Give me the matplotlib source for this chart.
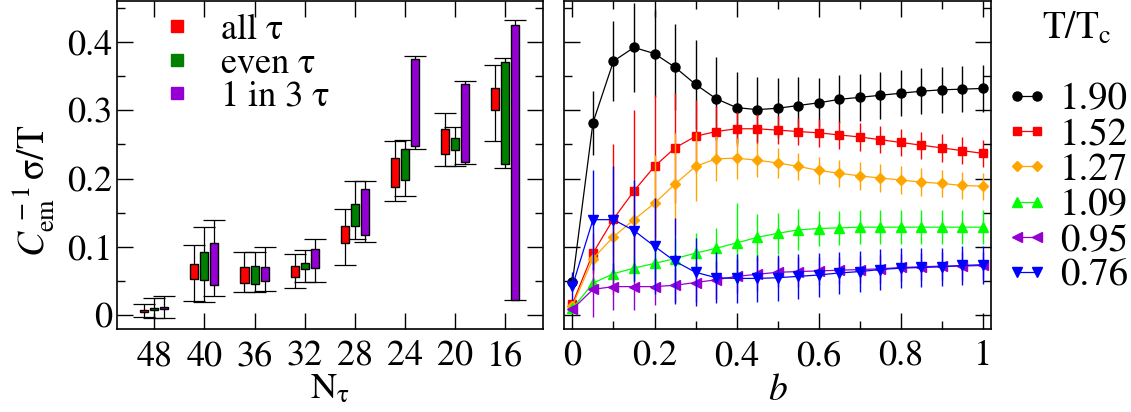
import numpy as np
import matplotlib
matplotlib.use("Agg")
import matplotlib.pyplot as plt
from matplotlib.lines import Line2D

plt.rcParams['font.family'] = ['STIXGeneral', 'DejaVu Serif']
plt.rcParams['mathtext.fontset'] = 'stix'

# ---- left panel data: N_tau groups, boxes (lo, hi) and whiskers (lo, hi)
ntau_labels = ['48', '40', '36', '32', '28', '24', '20', '16']

all_box_lo = [0.0048, 0.0527, 0.0469, 0.0561, 0.1055, 0.1885, 0.2368, 0.3008]
all_box_hi = [0.0078, 0.0752, 0.0712, 0.0718, 0.1300, 0.2306, 0.2725, 0.3320]
all_err_lo = [-0.003, 0.0214, 0.0337, 0.0396, 0.0733, 0.1675, 0.2188, 0.2544]
all_err_hi = [0.0166, 0.1034, 0.0927, 0.0898, 0.1550, 0.2550, 0.2960, 0.3658]

even_box_lo = [0.0078, 0.0517, 0.0454, 0.0674, 0.1310, 0.1978, 0.2412, 0.2212]
even_box_hi = [0.0107, 0.0923, 0.0718, 0.0762, 0.1630, 0.2437, 0.2588, 0.3710]
even_err_lo = [-0.0044, 0.0199, 0.0340, 0.0483, 0.1120, 0.1753, 0.2178, 0.2163]
even_err_hi = [0.0250, 0.1290, 0.0927, 0.0952, 0.1970, 0.2564, 0.2755, 0.3770]

third_box_lo = [0.0092, 0.0444, 0.0507, 0.0688, 0.1180, 0.2476, 0.2242, 0.0220]
third_box_hi = [0.0126, 0.1055, 0.0703, 0.0967, 0.1850, 0.3755, 0.3390, 0.4243]
third_err_lo = [-0.0044, 0.0287, 0.0360, 0.0483, 0.1080, 0.2437, 0.2217, 0.0220]
third_err_hi = [0.0287, 0.1397, 0.0996, 0.1118, 0.1960, 0.3795, 0.3423, 0.4317]

# ---- right panel data: b scan for several T/Tc
b_vals = [0.0, 0.05, 0.1, 0.15, 0.2, 0.25, 0.3, 0.35, 0.4, 0.45, 0.5,
          0.55, 0.6, 0.65, 0.7, 0.75, 0.8, 0.85, 0.9, 0.95, 1.0]

y_190 = [0.049, 0.282, 0.372, 0.392, 0.383, 0.363, 0.338, 0.317, 0.304, 0.301, 0.303,
         0.307, 0.311, 0.316, 0.319, 0.322, 0.325, 0.328, 0.330, 0.331, 0.332]
e_190 = [0.010, 0.047, 0.058, 0.065, 0.064, 0.063, 0.065, 0.061, 0.052, 0.048, 0.044,
         0.042, 0.036, 0.035, 0.034, 0.034, 0.034, 0.034, 0.034, 0.034, 0.034]

y_152 = [0.017, 0.091, 0.141, 0.182, 0.218, 0.245, 0.262, 0.269, 0.273, 0.273, 0.271,
         0.269, 0.267, 0.264, 0.261, 0.257, 0.253, 0.249, 0.245, 0.241, 0.237]
e_152 = [0.005, 0.030, 0.110, 0.119, 0.105, 0.080, 0.053, 0.037, 0.025, 0.022, 0.020,
         0.020, 0.020, 0.020, 0.020, 0.020, 0.020, 0.020, 0.020, 0.020, 0.020]

y_127 = [0.014, 0.083, 0.115, 0.140, 0.164, 0.192, 0.218, 0.229, 0.230, 0.227, 0.223,
         0.218, 0.212, 0.208, 0.204, 0.201, 0.198, 0.195, 0.193, 0.190, 0.189]
e_127 = [0.005, 0.020, 0.030, 0.050, 0.070, 0.075, 0.050, 0.033, 0.030, 0.025, 0.022,
         0.020, 0.020, 0.020, 0.020, 0.020, 0.020, 0.020, 0.020, 0.020, 0.020]

y_109 = [0.010, 0.047, 0.061, 0.069, 0.076, 0.083, 0.091, 0.098, 0.106, 0.114, 0.120,
         0.125, 0.127, 0.128, 0.129, 0.129, 0.129, 0.129, 0.129, 0.129, 0.129]
e_109 = [0.005, 0.010, 0.015, 0.020, 0.025, 0.030, 0.030, 0.030, 0.058, 0.035, 0.030,
         0.030, 0.025, 0.025, 0.025, 0.025, 0.025, 0.025, 0.025, 0.025, 0.025]

y_095 = [0.009, 0.038, 0.042, 0.042, 0.042, 0.044, 0.048, 0.052, 0.057, 0.060, 0.063,
         0.064, 0.065, 0.066, 0.067, 0.068, 0.070, 0.071, 0.072, 0.072, 0.073]
e_095 = [0.005, 0.040, 0.034, 0.034, 0.027, 0.025, 0.028, 0.028, 0.025, 0.025, 0.022,
         0.022, 0.020, 0.020, 0.020, 0.020, 0.020, 0.020, 0.020, 0.020, 0.020]

y_076 = [0.043, 0.140, 0.140, 0.124, 0.101, 0.079, 0.063, 0.055, 0.054, 0.054, 0.055,
         0.057, 0.059, 0.062, 0.064, 0.067, 0.069, 0.070, 0.071, 0.073, 0.074]
e_076 = [0.020, 0.073, 0.078, 0.074, 0.070, 0.063, 0.050, 0.037, 0.036, 0.035, 0.034,
         0.033, 0.032, 0.031, 0.030, 0.030, 0.029, 0.029, 0.028, 0.028, 0.028]

temps = ['1.90', '1.52', '1.27', '1.09', '0.95', '0.76']

fig = plt.figure(figsize=(11.31, 4.12), dpi=100)
ax1 = fig.add_axes([0.1032, 0.2015, 0.3766, 0.7961])
ax2 = fig.add_axes([0.4989, 0.2015, 0.3773, 0.7961])

# left panel: floating boxes with whiskers
xpos = np.arange(1, len(ntau_labels) + 1)
groups = [
    ('all τ', 'red', -0.2, all_box_lo, all_box_hi, all_err_lo, all_err_hi),
    ('even τ', 'green', 0.0, even_box_lo, even_box_hi, even_err_lo, even_err_hi),
    ('1 in 3 τ', '#9400d3', 0.2, third_box_lo, third_box_hi, third_err_lo, third_err_hi),
]
handles = []
for lab, col, off, blo, bhi, elo, ehi in groups:
    blo = np.array(blo); bhi = np.array(bhi)
    elo = np.array(elo); ehi = np.array(ehi)
    mid = 0.5 * (blo + bhi)
    ax1.errorbar(xpos + off, mid, yerr=[mid - elo, ehi - mid], fmt='none',
                 ecolor='black', elinewidth=0.9, capsize=8, capthick=0.9, zorder=2)
    ax1.bar(xpos + off, bhi - blo, bottom=blo, width=0.16, color=col,
            edgecolor='black', linewidth=1.0, zorder=3)
    handles.append(Line2D([], [], ls='none', marker='s', ms=8.5, color=col, label=lab))

ax1.set_xlim(0.25, 8.75)
ax1.set_ylim(-0.02, 0.46)
ax1.set_xticks(xpos)
ax1.set_xticklabels(ntau_labels)
ax1.set_yticks([0, 0.1, 0.2, 0.3, 0.4])
ax1.set_yticklabels(['0', '0.1', '0.2', '0.3', '0.4'])
ax1.set_yticks(np.arange(0.05, 0.46, 0.1), minor=True)
ax1.set_xlabel(r'N$_{\mathrm{τ}}$', fontsize=26, labelpad=0)
ax1.set_ylabel(r'$C^{\,-1}_{\mathrm{em}}\,\mathrm{σ/T}$', fontsize=27, labelpad=2)
ax1.yaxis.set_label_coords(-0.14, 0.42)
ax1.legend(handles=handles, loc='upper left', bbox_to_anchor=(0.083, 1.005),
           frameon=False, fontsize=26, handlelength=0.6, handletextpad=0.9,
           labelspacing=0.0, borderaxespad=0)

# right panel: b dependence
series = [
    (y_190, e_190, 'black', 'o', 6.5),
    (y_152, e_152, 'red', 's', 6),
    (y_127, e_127, 'orange', 'D', 5),
    (y_109, e_109, '#00ff00', '^', 7),
    (y_095, e_095, '#9400d3', '<', 7),
    (y_076, e_076, 'blue', 'v', 7),
]
rh = []
for (y, e, col, mk, ms), t in zip(series, temps):
    ax2.errorbar(b_vals, y, yerr=e, fmt='none', ecolor=col, elinewidth=1.0)
    ax2.plot(b_vals, y, color=col, lw=0.9, marker=mk, ms=ms, mec=col, mfc=col)
    rh.append(Line2D([], [], color=col, lw=0.9, marker=mk, ms=ms, label=t))

ax2.set_xlim(-0.02, 1.02)
ax2.set_ylim(-0.02, 0.46)
ax2.set_xticks([0, 0.2, 0.4, 0.6, 0.8, 1.0])
ax2.set_xticklabels(['0', '0.2', '0.4', '0.6', '0.8', '1'])
ax2.set_xticks([0.1, 0.3, 0.5, 0.7, 0.9], minor=True)
ax2.set_yticks([0, 0.1, 0.2, 0.3, 0.4])
ax2.set_yticks(np.arange(0.05, 0.46, 0.1), minor=True)
ax2.set_yticklabels([])
ax2.set_xlabel(r'$b$', fontsize=27, labelpad=0)

for ax in (ax1, ax2):
    ax.tick_params(which='both', direction='in', top=True, right=True,
                   labelsize=26, width=1.0)
    ax.tick_params(which='major', length=11.5)
    ax.tick_params(which='minor', length=5.8)
    ax.tick_params(axis='x', pad=8)
    ax.tick_params(axis='y', pad=3)
    for s in ax.spines.values():
        s.set_linewidth(1.2)

fig.text(0.952, 0.93, r'T/T$_{\mathrm{c}}$', fontsize=27, ha='center', va='center')
fig.legend(handles=rh, loc='upper left', bbox_to_anchor=(0.889, 0.80),
           frameon=False, fontsize=28, numpoints=2, handlelength=1.1,
           handletextpad=0.3, labelspacing=0.0, borderaxespad=0, borderpad=0)

fig.savefig('out.png', dpi=100)
